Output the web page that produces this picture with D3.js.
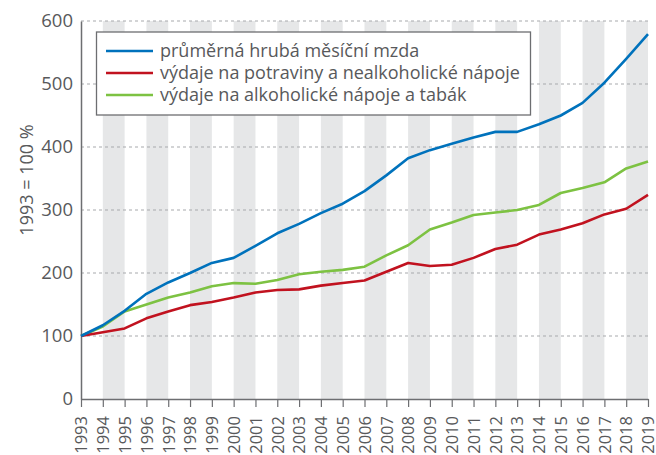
<!DOCTYPE html>
<html><head><meta charset="utf-8">
<script src="https://cdn.jsdelivr.net/npm/d3@7"></script>
<style>body{margin:0;background:#fff}svg{display:block}</style>
</head><body><svg id="c" width="656" height="455"></svg>
<script>
const years = d3.range(1993, 2020);
const wage = [100,117,140,167,185,200,216,224,243,263,278,295,310,330,355,382,395,405,415,424,424,436,450,470,502,540,579];
const food = [100,106,112,128,139,149,154,161,169,173,174,180,184,188,202,216,211,213,224,238,245,261,269,279,293,302,324];
const alco = [100,115,139,150,161,169,179,184,183,189,198,202,205,210,228,244,269,280,292,296,300,308,327,335,344,366,377];
const seriesNames = ["průměrná hrubá měsíční mzda","výdaje na potraviny a nealkoholické nápoje","výdaje na alkoholické nápoje a tabák"];
const seriesColors = ["#0072bc","#c1121f","#7dc242"];
const yTicks = [0,100,200,300,400,500,600];
const yTitle = "1993 = 100 %";

const svg = d3.select("#c");
const m = {l:81, r:648, t:21, b:399};
const x = d3.scaleLinear().domain([1993,2019]).range([m.l, m.r]);
const y = d3.scaleLinear().domain([0,600]).range([m.b, m.t]);
const txt = "#58595b";
const font = "'Open Sans', sans-serif";

// bands
const bandStarts = years.filter(v => v % 2 === 0 && v < 2019);
svg.append("g").selectAll("rect").data(bandStarts).join("rect")
  .attr("x", d => x(d)).attr("width", d => x(d+1)-x(d))
  .attr("y", m.t).attr("height", m.b-m.t).attr("fill", "#e6e7e8");

// grid
svg.append("g").selectAll("line").data(yTicks.filter(d=>d>0)).join("line")
  .attr("x1", m.l).attr("x2", m.r).attr("y1", d=>y(d)).attr("y2", d=>y(d))
  .attr("stroke", "#a7a9ac").attr("stroke-width", 1).attr("stroke-dasharray", "3,3");

// y axis
const ya = svg.append("g").attr("transform", `translate(${m.l},0)`)
  .call(d3.axisLeft(y).tickValues(yTicks).tickSize(0).tickPadding(8));
ya.select(".domain").attr("stroke", "#6d6e71").attr("stroke-width", 1.5);
ya.selectAll("text").attr("font-family", font).attr("font-size", 18.5).attr("fill", txt);

// x axis
const xa = svg.append("g").attr("transform", `translate(0,${m.b})`)
  .call(d3.axisBottom(x).tickValues(years).tickFormat(d3.format("d")).tickSize(8).tickSizeOuter(0));
xa.select(".domain").attr("stroke", "#6d6e71").attr("stroke-width", 1.5);
xa.selectAll("line").attr("stroke", "#6d6e71").attr("stroke-width", 1.2);
xa.selectAll("text").attr("font-family", font).attr("font-size", 16.5).attr("fill", txt)
  .attr("transform", "rotate(-90)").attr("text-anchor", "end").attr("dx", "-16.5px").attr("dy", "0.35em").attr("y", 0).attr("x", -0.5);

// y title
svg.append("text").attr("transform", `translate(33,180) rotate(-90)`)
  .attr("text-anchor", "middle").attr("font-family", font).attr("font-size", 18).attr("fill", txt).text(yTitle);

// lines
const data = [wage, food, alco];
const line = d3.line().x((d,i)=>x(years[i])).y(d=>y(d));
[2,1,0].forEach(k => {
  svg.append("path").datum(data[k]).attr("d", line).attr("fill","none")
    .attr("stroke", seriesColors[k]).attr("stroke-width", 2.6).attr("stroke-linejoin","round");
});

// legend
const lg = svg.append("g");
lg.append("rect").attr("x", 96.5).attr("y", 32).attr("width", 434).attr("height", 83)
  .attr("fill", "#fff").attr("stroke", "#6d6e71").attr("stroke-width", 1.3);
seriesNames.forEach((n,i) => {
  const yy = 51 + i*22;
  lg.append("line").attr("x1",106).attr("x2",153).attr("y1",yy).attr("y2",yy)
    .attr("stroke", seriesColors[i]).attr("stroke-width", 2.6);
  lg.append("text").attr("x",160).attr("y",yy).attr("dy","0.35em")
    .attr("font-family", font).attr("font-size", 18).attr("fill", txt).text(n);
});
</script></body></html>
